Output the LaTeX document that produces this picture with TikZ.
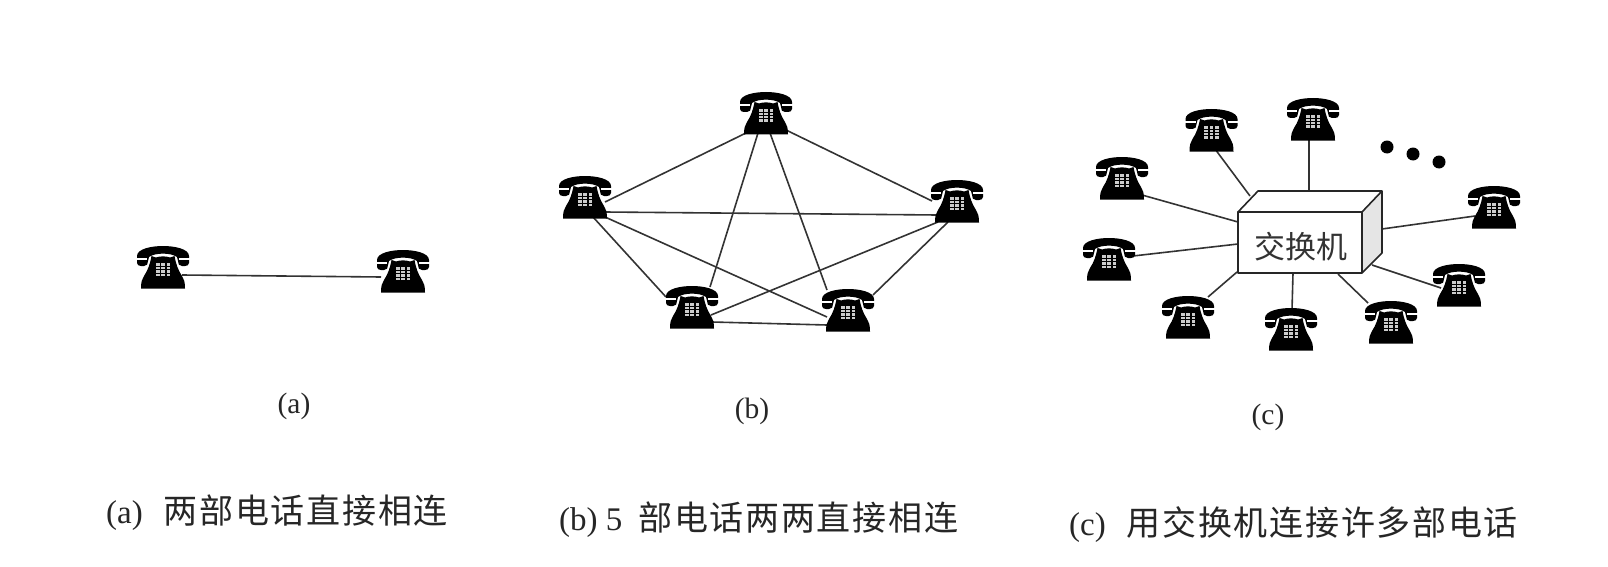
\documentclass[tikz,border=0pt]{standalone}
\usepackage{fontspec}
\setmainfont{Liberation Serif}
\newfontfamily\cjk{Noto Sans CJK SC}
\newfontfamily\capcjk{Noto Sans CJK SC}[LetterSpace=5]
\tikzset{
  wire/.style={draw=black!80,line width=1.6pt},
  boxline/.style={draw=black!85,line width=1.6pt,line join=round},
  sublabel/.style={font=\fontsize{29.5}{32}\selectfont,text=black!85,inner sep=0pt},
  caption/.style={font=\fontsize{33}{36}\selectfont,text=black!85,inner sep=0pt},
  phone/.pic={
    % handset
    \fill[black] (-26,-11) .. controls (-26,-18) and (-12,-21) .. (0,-21)
      .. controls (12,-21) and (26,-18) .. (26,-11) -- (26,-4)
      .. controls (26,-2) and (24,-1) .. (22,-1) -- (19,-1)
      .. controls (16,-1) and (15,-3) .. (15,-6) -- (14,-10)
      .. controls (8,-14.5) and (-8,-14.5) .. (-14,-10) -- (-15,-6)
      .. controls (-15,-3) and (-16,-1) .. (-19,-1) -- (-22,-1)
      .. controls (-24,-1) and (-26,-2) .. (-26,-4) -- cycle;
    \fill[white] (-26.5,-8.6) rectangle (-16,-7.4);
    \fill[white] (16,-8.6) rectangle (26.5,-7.4);
    % body
    \fill[black] (-11.5,-11) -- (-7,-9.5) .. controls (-3,-11) and (3,-11) .. (7,-9.5) -- (11.5,-11)
      .. controls (13,-3) and (15,3) .. (19,9)
      .. controls (21,12) and (22,15) .. (22,21.5) -- (-22,21.5)
      .. controls (-22,15) and (-21,12) .. (-19,9)
      .. controls (-15,3) and (-13,-3) .. (-11.5,-11) -- cycle;
    % keys
    \foreach \u in {-5.4,0,5.4}\foreach \v in {-2.5,0.9,4.3,7.7}
      \fill[white!80!black] (\u-1.9,\v-1.2) rectangle (\u+1.9,\v+1.2);
  }
}
\begin{document}
\begin{tikzpicture}[x=1pt,y=-1pt]
\useasboundingbox (0,0) rectangle (1608,567);
% anchors of the telephones
\foreach \n/\p in {a1/{163,267},a2/{403,271},
  b1/{766,113},b2/{585,197},b3/{957,201},b4/{692,307},b5/{848,310},
  c1/{1211.5,130},c2/{1313,119},c3/{1122,178},c4/{1494,207},c5/{1109,259},
  c6/{1459,285},c7/{1188,317},c8/{1291,329},c9/{1391,322}}
  {\coordinate (\n) at (\p);}
% switch box
\coordinate (fTL) at (1238,212);
\coordinate (fTR) at (1362,212);
\coordinate (fBR) at (1362,273);
\coordinate (fBL) at (1238,273);
\coordinate (bTL) at (1258,191);
\coordinate (bTR) at (1382,191);
\coordinate (bBR) at (1382,253);
% connectors (a)
\draw[wire] ([shift={(19,8)}]a1) -- ([shift={(-22,6)}]a2);
% connectors (b)
\foreach \u/\ux/\uy/\v/\vx/\vy in {
  b1/-20/20/b2/20/5, b1/20/17/b3/-25/0, b1/-8/20/b4/18/-20, b1/4/20/b5/-21/-20,
  b2/20/15/b3/-20/14, b2/8/20/b4/-26/-10, b2/20/20/b5/-21/7,
  b3/-19/21/b4/19/8, b3/-9/21/b5/25/-15, b4/20/15/b5/-21/15}
  \draw[wire] ([shift={(\ux,\uy)}]\u) -- ([shift={(\vx,\vy)}]\v);
% connectors (c)
\coordinate (s1) at (1250,196);
\coordinate (s2) at (1309,191);
\coordinate (s3) at (1238,222);
\coordinate (s4) at (1382,229);
\coordinate (s5) at (1238,244);
\coordinate (s6) at (1372,265);
\coordinate (s7) at (1237,272);
\coordinate (s8) at (1293,273);
\coordinate (s9) at (1338,274);
\foreach \i/\x/\y in {1/5/21,2/-4/20,3/20/17,4/-19/9,5/24/-3,6/-18/3,7/20/-20,8/1/-19,9/-23/-19}
  \draw[wire] ([shift={(\x,\y)}]c\i) -- (s\i);
% box
\fill[white] (fTL) -- (bTL) -- (bTR) -- (bBR) -- (fBR) -- (fBL) -- cycle;
\fill[black!10] (fTR) -- (bTR) -- (bBR) -- (fBR) -- cycle;
\draw[boxline] (fTL) rectangle (fBR);
\draw[boxline] (fTL) -- (bTL) -- (bTR) -- (bBR) -- (fBR);
\draw[boxline] (fTR) -- (bTR);
\node[inner sep=0pt,font=\cjk\fontsize{31}{34}\selectfont,text=black!80] (sw) at (1301,247) {交换机};
% telephones
\foreach \n in {a1,a2,b1,b2,b3,b4,b5,c1,c2,c3,c4,c5,c6,c7,c8,c9}
  \pic at (\n) {phone};
% dots
\foreach \p in {{1387,147},{1413,154},{1439,162}}
  \fill[black] (\p) circle (6.5);
% labels
\node[sublabel] (la) at (294,406) {(a)};
\node[sublabel] (lb) at (752,411) {(b)};
\node[sublabel] (lc) at (1268,417) {(c)};
\node[caption,anchor=west] (ca) at (106,513) {(a)\hspace{21pt}{\capcjk\fontsize{34}{36}\selectfont 两部电话直接相连}};
\node[caption,anchor=west] (cb) at (559,520) {(b) 5\hspace{16pt}{\capcjk\fontsize{34}{36}\selectfont 部电话两两直接相连}};
\node[caption,anchor=west] (cc) at (1069,525) {(c)\hspace{21pt}{\capcjk\fontsize{34}{36}\selectfont 用交换机连接许多部电话}};
\end{tikzpicture}
\end{document}
